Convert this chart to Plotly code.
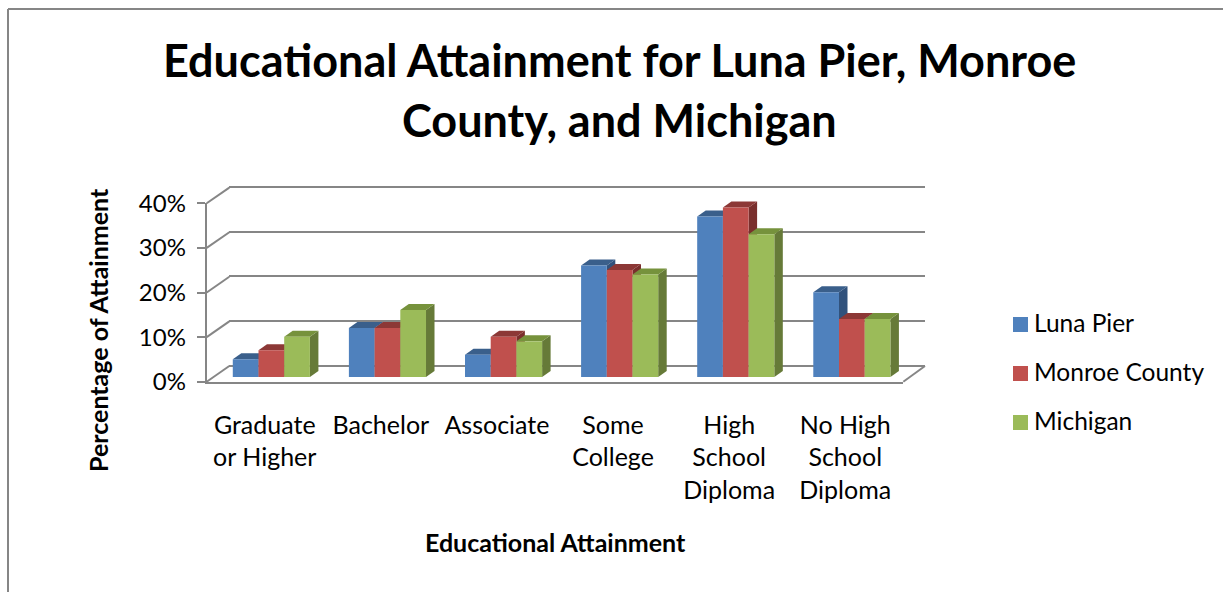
import plotly.graph_objects as go

categories = ['Graduate<br>or Higher', 'Bachelor', 'Associate', 'Some<br>College',
              'High<br>School<br>Diploma', 'No High<br>School<br>Diploma']
luna_pier = [4, 11, 5, 25, 36, 19]
monroe_county = [6, 11, 9, 24, 38, 13]
michigan = [9, 15, 8, 23, 32, 13]
y_ticks = [0, 10, 20, 30, 40]
y_labels = ['0%', '10%', '20%', '30%', '40%']

W, H = 1223, 592
GRID = '#868686'
FONT = 'Lato'

series = [
    ('Luna Pier', luna_pier, '#4F81BD', '#3A5F8B', '#31527C'),
    ('Monroe County', monroe_county, '#C0504D', '#8C3836', '#7A2F2D'),
    ('Michigan', michigan, '#9BBB59', '#76923C', '#667A38'),
]

BAR_W = 0.2214
DX = 8.5 / 116.1   # bar depth, category units
DY = 6 / 4.46      # bar depth, percent units


def px_x(x):
    return x / W


def px_y(y):
    return 1 - y / H


fig = go.Figure()

# empty traces so the wall and front axes subplots exist
fig.add_trace(go.Scatter(x=[None], y=[None], xaxis='x', yaxis='y'))
fig.add_trace(go.Scatter(x=[None], y=[None], xaxis='x2', yaxis='y2'))

# depth faces, painted left to right so nearer ones overlap
for i in range(len(categories)):
    for j, (name, values, front, top, side) in enumerate(series):
        v = values[i]
        left = i + (j - 1.5) * BAR_W
        right = left + BAR_W
        fig.add_trace(go.Scatter(
            x=[right, right + DX, right + DX, right, right],
            y=[0, DY, v + DY, v, 0],
            mode='lines', fill='toself', fillcolor=side, line=dict(width=0),
            hoverinfo='skip', xaxis='x3', yaxis='y3'))
        fig.add_trace(go.Scatter(
            x=[left, right, right + DX, left + DX, left],
            y=[v, v, v + DY, v + DY, v],
            mode='lines', fill='toself', fillcolor=top, line=dict(width=0),
            hoverinfo='skip', xaxis='x3', yaxis='y3'))

# front faces of the bars go on top of everything
for name, values, front, top, side in series:
    fig.add_trace(go.Bar(x=list(range(len(categories))), y=values, name=name,
                         marker=dict(color=front, line=dict(width=0)),
                         xaxis='x4', yaxis='y4'))

# legend swatches as their own small subplot, the built-in legend can't sit this tight
fig.add_trace(go.Scatter(
    x=[0, 0, 0], y=[2, 1, 0], mode='markers',
    marker=dict(symbol='square', size=15, color=[s[2] for s in series], line=dict(width=0)),
    cliponaxis=False, hoverinfo='skip', xaxis='x5', yaxis='y5'))

fixed_x = dict(range=[-0.5, 5.5], showgrid=False, zeroline=False, showticklabels=False,
               ticks='', fixedrange=True, automargin=False)
fixed_y = dict(range=[0, 40], showgrid=False, zeroline=False, showticklabels=False,
               ticks='', fixedrange=True, automargin=False)

# back wall, front axes, bars: same scale, shifted to fake the perspective
back_x = [px_x(229.3), px_x(925)]
back_y = [px_y(370.5), px_y(182.2)]
front_x = [px_x(206.7), px_x(903.3)]
front_y = [px_y(381.7), px_y(203.3)]
bar_x = [px_x(213.3), px_x(909.9)]
bar_y = [px_y(377), px_y(198.6)]

shapes = []
for t in y_ticks:
    y0 = 381.7 - t * 4.46
    shapes.append(dict(type='line', xref='paper', yref='paper', x0=px_x(206.7), y0=px_y(y0),
                       x1=px_x(229.3), y1=px_y(y0 - 15.7), line=dict(color=GRID, width=2)))
shapes.append(dict(type='line', xref='paper', yref='paper', x0=px_x(903.3), y0=px_y(381.7),
                   x1=px_x(925), y1=px_y(366), line=dict(color=GRID, width=2)))
# chart border
shapes.append(dict(type='line', xref='paper', yref='paper', x0=px_x(8), y0=px_y(9),
                   x1=1, y1=px_y(9), line=dict(color=GRID, width=2)))
shapes.append(dict(type='line', xref='paper', yref='paper', x0=px_x(8), y0=px_y(9),
                   x1=px_x(8), y1=0, line=dict(color=GRID, width=2)))

annotations = [
    dict(text='<b>Educational Attainment for Luna Pier, Monroe</b>', x=px_x(619), y=px_y(60),
         font=dict(size=45, family=FONT, color='black')),
    dict(text='<b>County, and Michigan</b>', x=px_x(619), y=px_y(120),
         font=dict(size=45, family=FONT, color='black')),
    dict(text='<b>Percentage of Attainment</b>', x=px_x(98), y=px_y(330), textangle=-90,
         font=dict(size=25, family=FONT, color='black')),
    dict(text='<b>Educational Attainment</b>', x=px_x(555), y=px_y(542),
         font=dict(size=25, family=FONT, color='black')),
]
for a in annotations:
    a.update(xanchor='center')
for s, y in zip(series, [322, 371, 420]):
    annotations.append(dict(text=s[0], x=px_x(1032), y=px_y(y), xanchor='left',
                            font=dict(size=24.5, family=FONT, color='black')))
for a in annotations:
    a.update(xref='paper', yref='paper', showarrow=False, yanchor='middle')

fig.update_layout(
    template='none',
    width=W, height=H,
    margin=dict(l=0, r=0, t=0, b=0),
    paper_bgcolor='white',
    plot_bgcolor='rgba(0,0,0,0)',
    font=dict(family=FONT, size=25, color='black'),
    showlegend=False,
    barmode='group',
    bargap=1 - 3 * BAR_W,
    bargroupgap=0,
    hovermode=False,
    xaxis=dict(fixed_x, domain=back_x, anchor='y'),
    yaxis=dict(fixed_y, domain=back_y, anchor='x', range=[-1, 41], tickmode='array',
               tickvals=y_ticks, showgrid=True, gridcolor=GRID, gridwidth=2),
    xaxis2=dict(fixed_x, domain=front_x, anchor='y2', showticklabels=True, tickmode='array',
                tickvals=list(range(len(categories))), ticktext=categories, tickangle=0,
                showline=True, linecolor=GRID, linewidth=2, ticklabelstandoff=20,
                tickfont=dict(size=25, family=FONT, color='black')),
    yaxis2=dict(fixed_y, domain=front_y, anchor='x2', showticklabels=True, tickmode='array',
                tickvals=y_ticks, ticktext=y_labels, ticks='outside', ticklen=8, tickwidth=2,
                tickcolor=GRID, showline=True, linecolor=GRID, linewidth=2,
                ticklabelstandoff=6, tickfont=dict(size=24, family=FONT, color='black')),
    xaxis3=dict(fixed_x, domain=bar_x, anchor='y3'),
    yaxis3=dict(fixed_y, domain=bar_y, anchor='x3'),
    xaxis4=dict(fixed_x, domain=bar_x, anchor='y4'),
    yaxis4=dict(fixed_y, domain=bar_y, anchor='x4'),
    xaxis5=dict(fixed_x, domain=[px_x(1013), px_x(1028)], anchor='y5', range=[-1, 1], visible=False),
    yaxis5=dict(fixed_y, domain=[px_y(445.5), px_y(301.5)], anchor='x5', range=[-0.47, 2.47], visible=False),
    shapes=shapes,
    annotations=annotations,
)

fig.write_html('out.html', config=dict(displayModeBar=False),
               post_script="document.body.style.margin='0';document.body.style.overflow='hidden';")
